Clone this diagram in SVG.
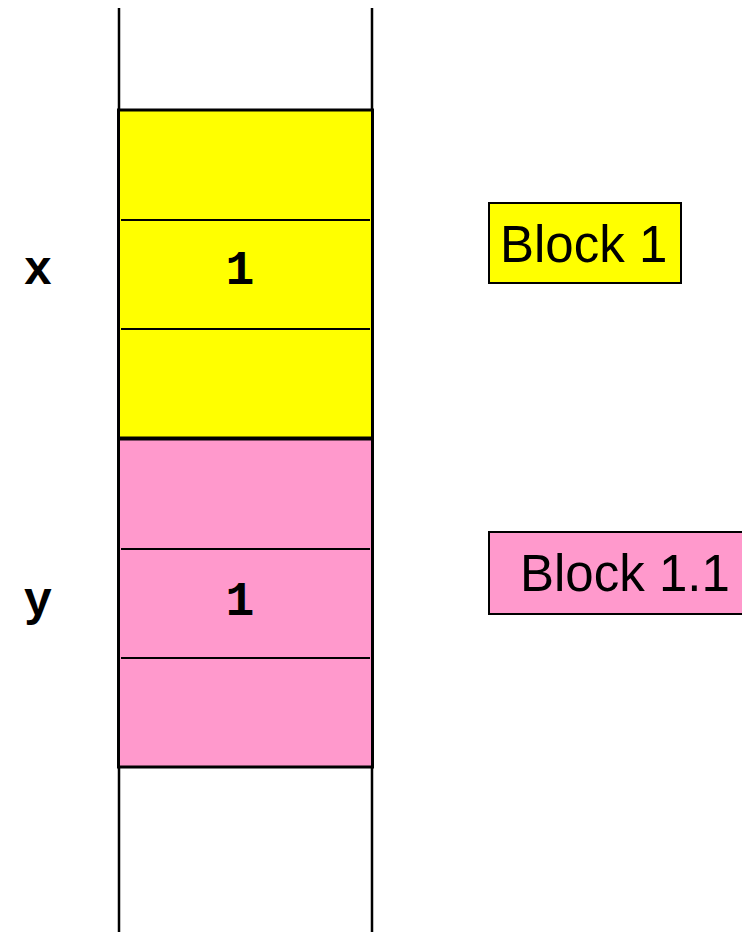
<svg xmlns="http://www.w3.org/2000/svg" width="742" height="932" viewBox="0 0 742 932">
<style>
.rail{stroke:#000;stroke-width:2.5;fill:none}
.blk{stroke:#000;stroke-width:3}
.sep{stroke:#000;stroke-width:2}
.mono{font-family:"Liberation Mono","Courier New",monospace;font-weight:bold;font-size:48px;fill:#000}
.lbl{font-family:"Liberation Sans",Arial,sans-serif;font-size:51px;fill:#000}
.lbox{stroke:#000;stroke-width:2}
</style>
<rect width="742" height="932" fill="#fff"/>
<g id="stack">
<line class="rail" x1="119" y1="8" x2="119" y2="932"/>
<line class="rail" x1="372" y1="8" x2="372" y2="932"/>
</g>
<g id="block1-frame">
<rect class="blk" x="118.5" y="110" width="254" height="328" fill="#ffff00"/>
<line class="sep" x1="121" y1="220" x2="370" y2="220"/>
<line class="sep" x1="121" y1="329" x2="370" y2="329"/>
<text class="mono" x="240" y="284" text-anchor="middle">1</text>
</g>
<g id="block11-frame">
<rect class="blk" x="118.5" y="439" width="254" height="328" fill="#ff99cc"/>
<line class="sep" x1="121" y1="549" x2="370" y2="549"/>
<line class="sep" x1="121" y1="658" x2="370" y2="658"/>
<text class="mono" x="240" y="615" text-anchor="middle">1</text>
</g>
<g id="var-x"><text class="mono" x="38" y="284" text-anchor="middle">x</text></g>
<g id="var-y"><text class="mono" x="38" y="615" text-anchor="middle">y</text></g>
<g id="label-block1">
<rect class="lbox" x="489" y="203" width="192" height="80" fill="#ffff00"/>
<text class="lbl" x="500" y="262">Block 1</text>
</g>
<g id="label-block11">
<rect class="lbox" x="489" y="532" width="262" height="82" fill="#ff99cc"/>
<text class="lbl" x="520" y="591">Block 1.1</text>
</g>
<g id="connectors"/>
</svg>
